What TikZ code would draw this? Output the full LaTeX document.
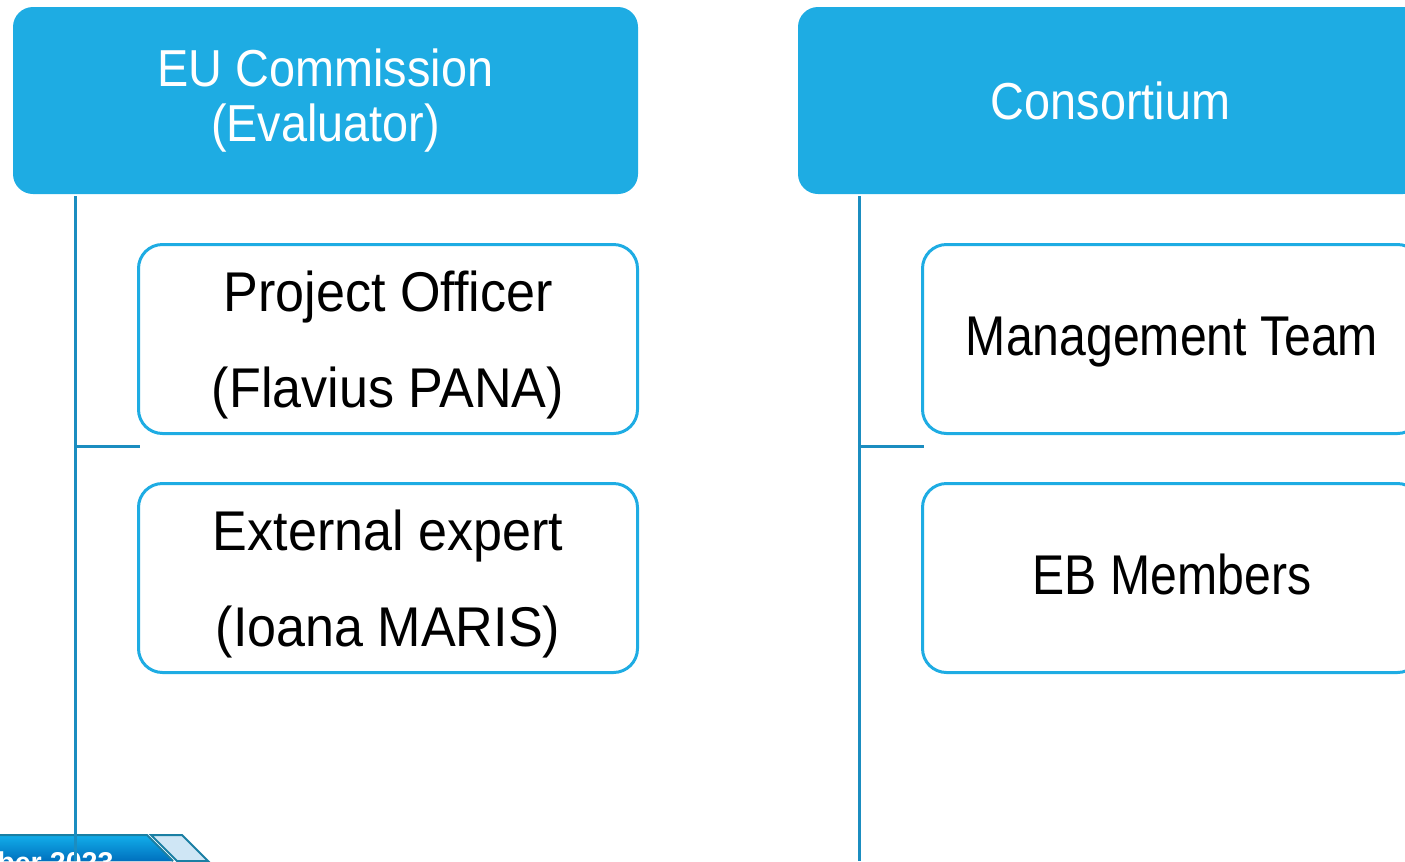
\documentclass[tikz,border=0pt]{standalone}
\usepackage{fontspec}
\setmainfont{Liberation Sans}
\newfontfamily\narrowfont[FakeStretch=0.86]{Liberation Sans}
\newfontfamily\wideboxfont[FakeStretch=0.93]{Liberation Sans}
\newfontfamily\headfont[FakeStretch=0.9]{Liberation Sans}
\definecolor{hdrblue}{HTML}{1EACE3}
\definecolor{linkblue}{HTML}{1B8DC0}
\definecolor{bannerdark}{HTML}{1A7FA3}
\definecolor{bannertop}{HTML}{12AEEA}
\definecolor{bannerbot}{HTML}{0070BE}
\definecolor{bannerlight}{HTML}{CFE6F5}
\begin{document}
\begin{tikzpicture}[x=0.75pt,y=-0.75pt,
  header/.style={fill=hdrblue, rounded corners=15pt, minimum width=468.75pt,
    minimum height=140.25pt, inner sep=0pt, text=white,
    font=\headfont\fontsize{39}{41}\selectfont, align=center},
  member/.style={draw=hdrblue, line width=2.25pt, fill=white, rounded corners=18pt,
    minimum width=374.25pt, minimum height=141.75pt, inner sep=0pt, align=center},
  oneline/.style={member, font=\narrowfont\fontsize{42}{72}\selectfont,
    text height=32pt, text depth=8pt},
  twotext/.style={inner sep=0pt, align=center,
    font=\wideboxfont\fontsize{42}{72}\selectfont},
  link/.style={draw=linkblue, line width=2.25pt},
  bannerline/.style={draw=bannerdark, line width=1.5pt}]
\useasboundingbox (0,0) rectangle (1405,861);
\clip (0,0) rectangle (1405,861);

% bottom-left banner (cut off)
\fill[top color=bannertop, bottom color=bannerbot] (0,835) -- (147,835) -- (173,861) -- (0,861) -- cycle;
\draw[bannerline] (0,835) -- (147,835) -- (173,861);
\filldraw[bannerline, fill=bannerlight] (151,835) -- (182,835) -- (208,861) -- (177,861) -- cycle;
\node[anchor=north west, text=white, inner sep=0pt,
  font=\bfseries\fontsize{21.5}{21.5}\selectfont] (date) at (-3,851) {ber 2023};

% headers
\node[header] (eu) at (325.5,100.5) {EU Commission\\(Evaluator)};
\node[header] (cons) at (1110.5,100.5) {Consortium};

% member boxes
\node[member] (po) at (388,339) {};
\node[twotext] (potext) at ([yshift=-4.5pt]po.center) {Project Officer\\(Flavius PANA)};
\node[member] (ee) at (388,578) {};
\node[twotext] (eetext) at ([yshift=-4.5pt]ee.center) {External expert\\(Ioana MARIS)};
\node[oneline] (mt) at (1172,339) {Management Team};
\node[oneline] (eb) at (1172,578) {EB Members};

% connectors
\coordinate (lbot) at (75,861);
\coordinate (lj) at (75,446);
\coordinate (rbot) at (859,861);
\coordinate (rj) at (859,446);
\draw[link] ([yshift=-1.5pt]eu.south -| lbot) -- (lbot);
\draw[link] (lj) -- ([xshift=2pt]lj -| po.west);
\draw[link] ([yshift=-1.5pt]cons.south -| rbot) -- (rbot);
\draw[link] (rj) -- ([xshift=2pt]rj -| mt.west);
\end{tikzpicture}
\end{document}
